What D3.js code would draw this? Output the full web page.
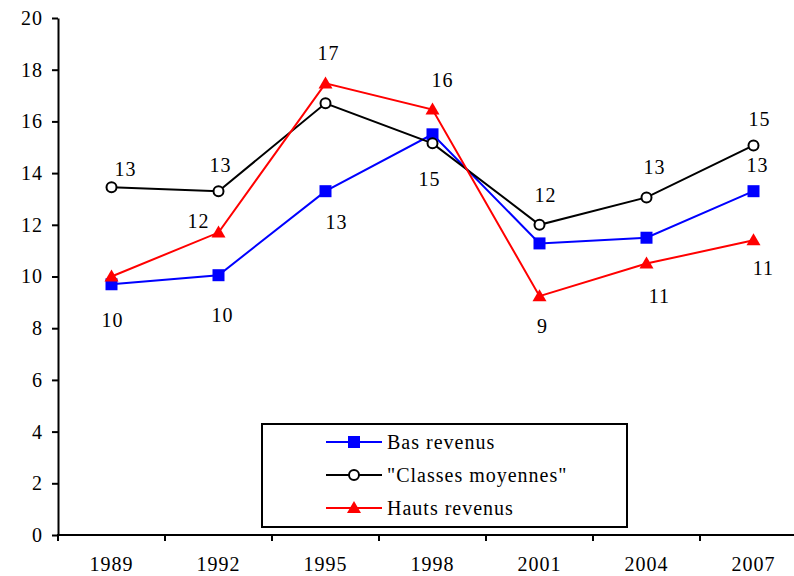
<!DOCTYPE html>
<html>
<head>
<meta charset="utf-8">
<script src="https://cdn.jsdelivr.net/npm/d3@7"></script>
<style>
  body { margin: 0; background: #fff; }
</style>
</head>
<body>
<svg id="chart"></svg>
<script>
// data
const years = ["1989", "1992", "1995", "1998", "2001", "2004", "2007"];
const basRevenus = [9.7, 10.05, 13.3, 15.5, 11.28, 11.5, 13.3];
const classesMoyennes = [13.45, 13.3, 16.7, 15.15, 12.0, 13.06, 15.07];
const hautsRevenus = [10.0, 11.7, 17.47, 16.46, 9.24, 10.5, 11.4];
const seriesNames = ["Bas revenus", "\"Classes moyennes\"", "Hauts revenus"];
const yTicks = [0, 2, 4, 6, 8, 10, 12, 14, 16, 18, 20];

// which points get a value label, and where (pixel offset from the point)
const labelOffsets = [
  { "1989": [1, 43], "1992": [4, 47], "1995": [11, 38], "2007": [4, -19] },
  { "1989": [14, -11], "1992": [2, -19], "1998": [-3, 43], "2001": [6, -23], "2004": [8, -23], "2007": [6, -19] },
  { "1992": [-20, -5], "1995": [3, -23], "1998": [10, -23], "2001": [3, 37], "2004": [13, 39], "2007": [10, 35] }
];

const width = 794;
const height = 576;
const margin = { left: 58, top: 18, bottom: 41 };
const bandW = 107;

const svg = d3.select('svg#chart').attr('width', width).attr('height', height)
    .attr('font-family', 'Liberation Serif, Times New Roman, serif')
    .attr('font-size', 20)

const x = d3.scaleBand().domain(years).range([margin.left, margin.left + bandW * years.length]).padding(0)
const y = d3.scaleLinear().domain([0, 20]).range([height - margin.bottom, margin.top])
const cx = d => x(d) + x.bandwidth() / 2

// y axis
const yAxis = svg.append('g')
    .attr('transform', 'translate(' + margin.left + ',0)')
    .call(d3.axisLeft(y).tickValues(yTicks).tickSize(6).tickSizeOuter(0).tickPadding(9))
yAxis.select('.domain').attr('stroke', '#000').attr('stroke-width', 2)
yAxis.selectAll('.tick line').attr('stroke-width', 2)

// x axis: line, ticks between categories, labels centred
const xAxis = svg.append('g')
    .attr('transform', 'translate(0,' + y(0) + ')')
    .call(d3.axisBottom(x).tickSize(0).tickPadding(22))
xAxis.select('.domain').remove()
xAxis.append('line')
    .attr('x1', margin.left).attr('x2', width)
    .attr('stroke', '#000').attr('stroke-width', 2)
xAxis.selectAll('.edge').data(years).enter().append('line')
    .attr('class', 'edge')
    .attr('x1', d => x(d)).attr('x2', d => x(d))
    .attr('y1', -1).attr('y2', 6)
    .attr('stroke', '#000').attr('stroke-width', 2)

// the axis component writes its own font attributes on the groups; drop them
svg.selectAll('g').attr('font-family', null).attr('font-size', null)

const series = [
  { name: seriesNames[0], values: basRevenus, color: '#0000ff', marker: 'square' },
  { name: seriesNames[1], values: classesMoyennes, color: '#000000', marker: 'circle' },
  { name: seriesNames[2], values: hautsRevenus, color: '#ff0000', marker: 'triangle' }
];

const line = d3.line().x((d, i) => cx(years[i])).y(d => y(d))

function drawMarker(g, type, color) {
  if (type === 'square') {
    g.append('rect').attr('x', -6).attr('y', -6).attr('width', 12).attr('height', 12).attr('fill', color)
  } else if (type === 'circle') {
    g.append('circle').attr('r', 5).attr('fill', '#fff').attr('stroke', color).attr('stroke-width', 2)
  } else {
    g.append('path').attr('d', 'M0,-7 L7,5 L-7,5 Z').attr('fill', color)
  }
}

const plot = svg.append('g')
series.forEach(function (s) {
  plot.append('path')
      .datum(s.values)
      .attr('d', line)
      .attr('fill', 'none')
      .attr('stroke', s.color)
      .attr('stroke-width', 2)
})
series.forEach(function (s) {
  s.values.forEach(function (v, i) {
    const g = plot.append('g').attr('transform', 'translate(' + cx(years[i]) + ',' + y(v) + ')')
    drawMarker(g, s.marker, s.color)
  })
})

// value labels
series.forEach(function (s, si) {
  s.values.forEach(function (v, i) {
    const off = labelOffsets[si][years[i]]
    if (!off) return
    plot.append('text')
        .attr('x', cx(years[i]) + off[0])
        .attr('y', y(v) + off[1])
        .attr('text-anchor', 'middle')
        .text(Math.round(v))
  })
})

// legend
const legend = svg.append('g').attr('transform', 'translate(262,424)')
legend.append('rect')
    .attr('width', 365).attr('height', 103)
    .attr('fill', '#fff').attr('stroke', '#000').attr('stroke-width', 2)
series.forEach(function (s, i) {
  const ly = 18 + i * 33
  legend.append('line')
      .attr('x1', 64).attr('x2', 120).attr('y1', ly).attr('y2', ly)
      .attr('stroke', s.color).attr('stroke-width', 2)
  const m = legend.append('g').attr('transform', 'translate(92,' + ly + ')')
  drawMarker(m, s.marker, s.color)
  legend.append('text')
      .attr('x', 125).attr('y', ly + 7)
      .text(s.name)
})

svg.selectAll('text')
    .attr('font-family', 'Liberation Serif, Times New Roman, serif')
    .attr('font-size', 20)
    .attr('letter-spacing', 1)
    .attr('fill', '#000')
</script>
</body>
</html>
